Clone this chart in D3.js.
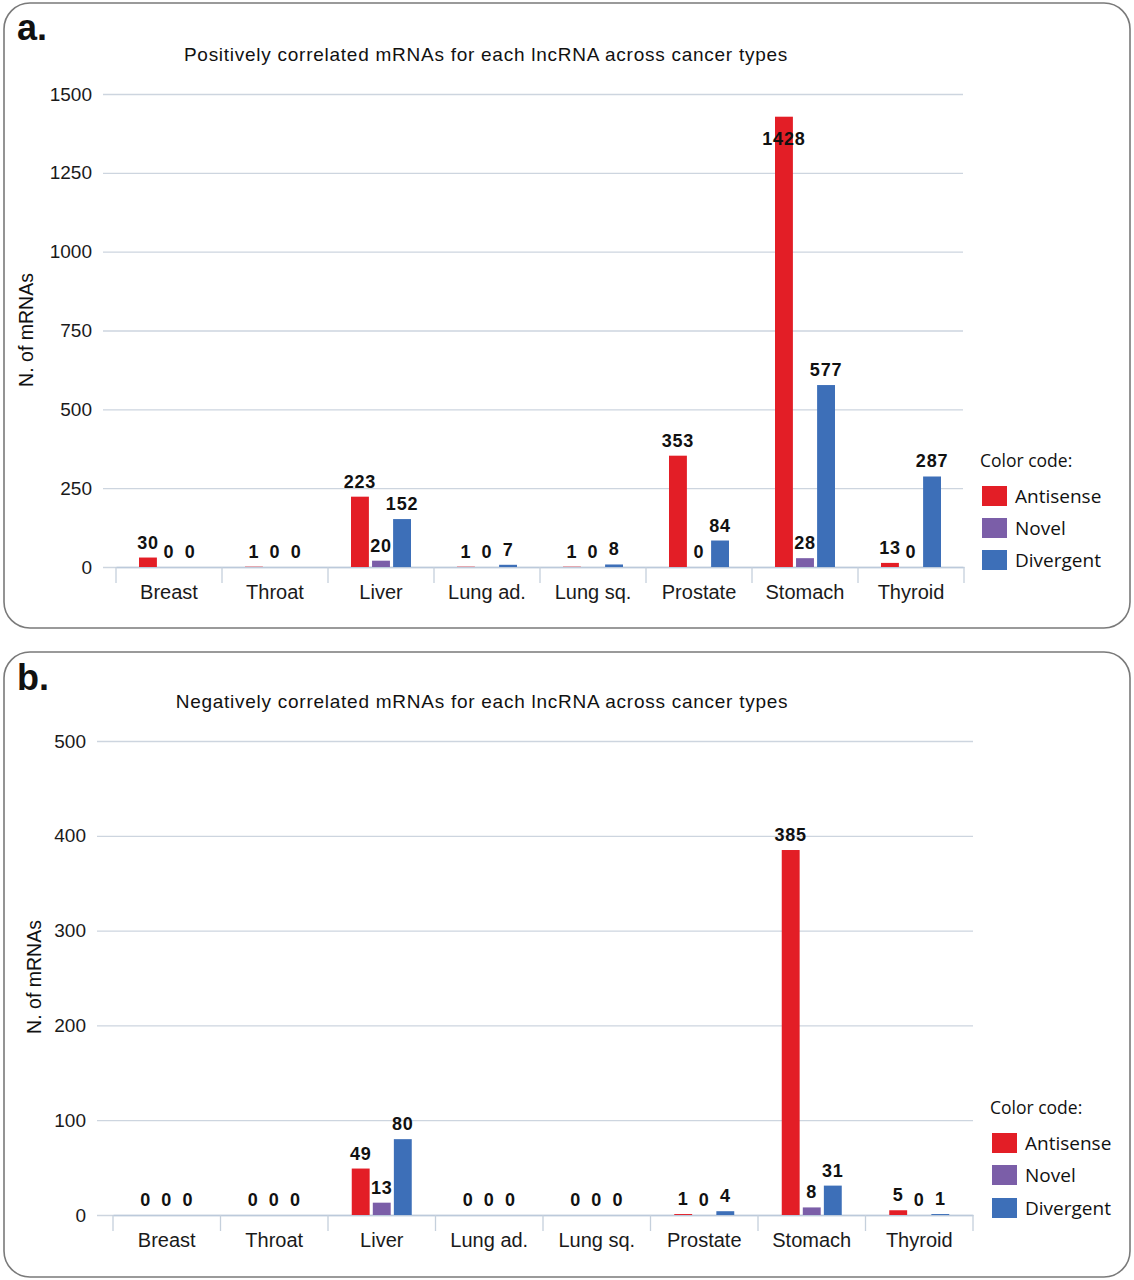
<!DOCTYPE html>
<html><head><meta charset="utf-8">
<script src="https://cdn.jsdelivr.net/npm/d3@7"></script>
<style>html,body{margin:0;padding:0;background:#fff;}svg{display:block;}</style>
</head><body>
<script>
// ---------- data ----------
const categories = ["Breast","Throat","Liver","Lung ad.","Lung sq.","Prostate","Stomach","Thyroid"];
const seriesNames = ["Antisense","Novel","Divergent"];
const posAntisense = [30,1,223,1,1,353,1428,13];
const posNovel     = [0,0,20,0,0,0,28,0];
const posDivergent = [0,0,152,7,8,84,577,287];
const negAntisense = [0,0,49,0,0,1,385,5];
const negNovel     = [0,0,13,0,0,0,8,0];
const negDivergent = [0,0,80,0,0,4,31,1];
const posTicks = [0,250,500,750,1000,1250,1500];
const negTicks = [0,100,200,300,400,500];
const posTitle = "Positively correlated mRNAs for each lncRNA across cancer types";
const negTitle = "Negatively correlated mRNAs for each lncRNA across cancer types";
const yTitle = "N. of mRNAs";
const legendTitle = "Color code:";

// ---------- styles ----------
const colors = {Antisense:"#e31e26", Novel:"#7b5ea8", Divergent:"#3d6fb8"};
const FONT = "'Liberation Sans', Arial, sans-serif";
const LFONT = "'Open Sans', 'Noto Sans', sans-serif";

const W = 1134, H = 1280;
const svg = d3.select("body").append("svg").attr("width", W).attr("height", H);

function drawPanel(cfg, seriesData, ticks, title, letter) {
  const g = svg.append("g");
  g.append("rect").attr("x", cfg.box[0]).attr("y", cfg.box[1])
    .attr("width", cfg.box[2]).attr("height", cfg.box[3])
    .attr("rx", 26).attr("ry", 26)
    .attr("fill", "#fff").attr("stroke", "#7a7a7a").attr("stroke-width", 1.6);

  g.append("text").attr("x", cfg.letterX).attr("y", cfg.letterY)
    .attr("font-family", FONT).attr("font-weight", "bold").attr("font-size", 36)
    .attr("fill", "#111").text(letter);

  g.append("text").attr("x", cfg.titleX).attr("y", cfg.titleY)
    .attr("text-anchor", "middle").attr("font-family", FONT).attr("font-size", 19)
    .attr("letter-spacing", 0.74)
    .attr("fill", "#111").text(title);

  const y = d3.scaleLinear().domain([0, ticks[ticks.length-1]]).range([cfg.yBase, cfg.yTop]);
  const x = d3.scaleBand().domain(categories).range([cfg.axisX0, cfg.axisX1]).padding(0);
  const xs = d3.scaleBand().domain(seriesNames).range([-30, 30]).paddingInner(0.15).paddingOuter(0);

  // gridlines + tick labels via axis
  const yAxis = d3.axisLeft(y).tickValues(ticks).tickSize(-(cfg.gridX1 - cfg.gridX0)).tickPadding(11).tickFormat(d3.format("d"));
  const ya = g.append("g").attr("transform", `translate(${cfg.gridX0},0)`).call(yAxis);
  ya.select(".domain").remove();
  ya.selectAll(".tick line").attr("stroke", "#cdd5df").attr("stroke-width", 1.3);
  ya.selectAll(".tick text").attr("font-family", FONT).attr("font-size", 19).attr("fill", "#1a1a1a");

  // x axis
  const xAxis = d3.axisBottom(x).tickSize(0).tickPadding(cfg.catPad);
  const xa = g.append("g").attr("transform", `translate(0,${cfg.yBase})`).call(xAxis);
  xa.select(".domain").attr("stroke", "#bccadb").attr("stroke-width", 1.5);
  xa.selectAll(".tick text").attr("font-family", FONT).attr("font-size", 20).attr("fill", "#1a1a1a");
  const bounds = categories.map(c => x(c)).concat([cfg.axisX1]);
  g.append("g").selectAll("line").data(bounds).join("line")
    .attr("x1", d => d).attr("x2", d => d)
    .attr("y1", cfg.yBase).attr("y2", cfg.yBase + 16)
    .attr("stroke", "#c5d0dc").attr("stroke-width", 1.3);

  // y title
  g.append("text")
    .attr("transform", `translate(${cfg.yTitleX},${cfg.yTitleY}) rotate(-90)`)
    .attr("text-anchor", "middle").attr("font-family", FONT).attr("font-size", 19.5)
    .attr("fill", "#111").text(yTitle);

  // bars
  const yMax = ticks[ticks.length-1];
  seriesNames.forEach((s, si) => {
    const vals = seriesData[si];
    const sg = g.append("g");
    sg.selectAll("rect").data(vals).join("rect")
      .attr("x", (d, i) => x(categories[i]) + x.bandwidth()/2 + xs(s))
      .attr("width", xs.bandwidth())
      .attr("y", d => y(d))
      .attr("height", d => cfg.yBase - y(d))
      .attr("fill", colors[s]);
    sg.selectAll("text").data(vals).join("text")
      .attr("x", (d, i) => x(categories[i]) + x.bandwidth()/2 + xs(s) + xs.bandwidth()/2)
      .attr("y", d => d > 0.9 * yMax ? y(d) + 28 : y(d) - 9)
      .attr("text-anchor", "middle").attr("font-family", FONT).attr("font-weight", "bold")
      .attr("font-size", 18).attr("letter-spacing", 0.8).attr("fill", "#111")
      .text(d => d);
  });

  // legend
  const lg = g.append("g");
  lg.append("text").attr("x", cfg.legX - 2).attr("y", cfg.legTitleY)
    .attr("font-family", LFONT).attr("font-size", 17.5).attr("fill", "#111").text(legendTitle);
  seriesNames.forEach((s, i) => {
    const cy = cfg.legRows[i];
    lg.append("rect").attr("x", cfg.legX).attr("y", cy - 10).attr("width", 25).attr("height", 20).attr("fill", colors[s]);
    lg.append("text").attr("x", cfg.legX + 33).attr("y", cy + 7)
      .attr("font-family", LFONT).attr("font-size", 19).attr("fill", "#111").text(s);
  });
}

drawPanel({
  box:[4,3,1126,625], letterX:17, letterY:40, titleX:486, titleY:61,
  yTop:94, yBase:567, gridX0:103, gridX1:963, axisX0:116, axisX1:964,
  catPad:18, yTitleX:33, yTitleY:330,
  legX:982, legTitleY:467, legRows:[496,528,560]
}, [posAntisense, posNovel, posDivergent], posTicks, posTitle, "a.");

drawPanel({
  box:[4,652,1126,625], letterX:17, letterY:690, titleX:482, titleY:708,
  yTop:741, yBase:1215, gridX0:97, gridX1:973, axisX0:113, axisX1:973,
  catPad:18, yTitleX:41, yTitleY:977,
  legX:992, legTitleY:1114, legRows:[1143,1175,1208]
}, [negAntisense, negNovel, negDivergent], negTicks, negTitle, "b.");
</script>
</body></html>
